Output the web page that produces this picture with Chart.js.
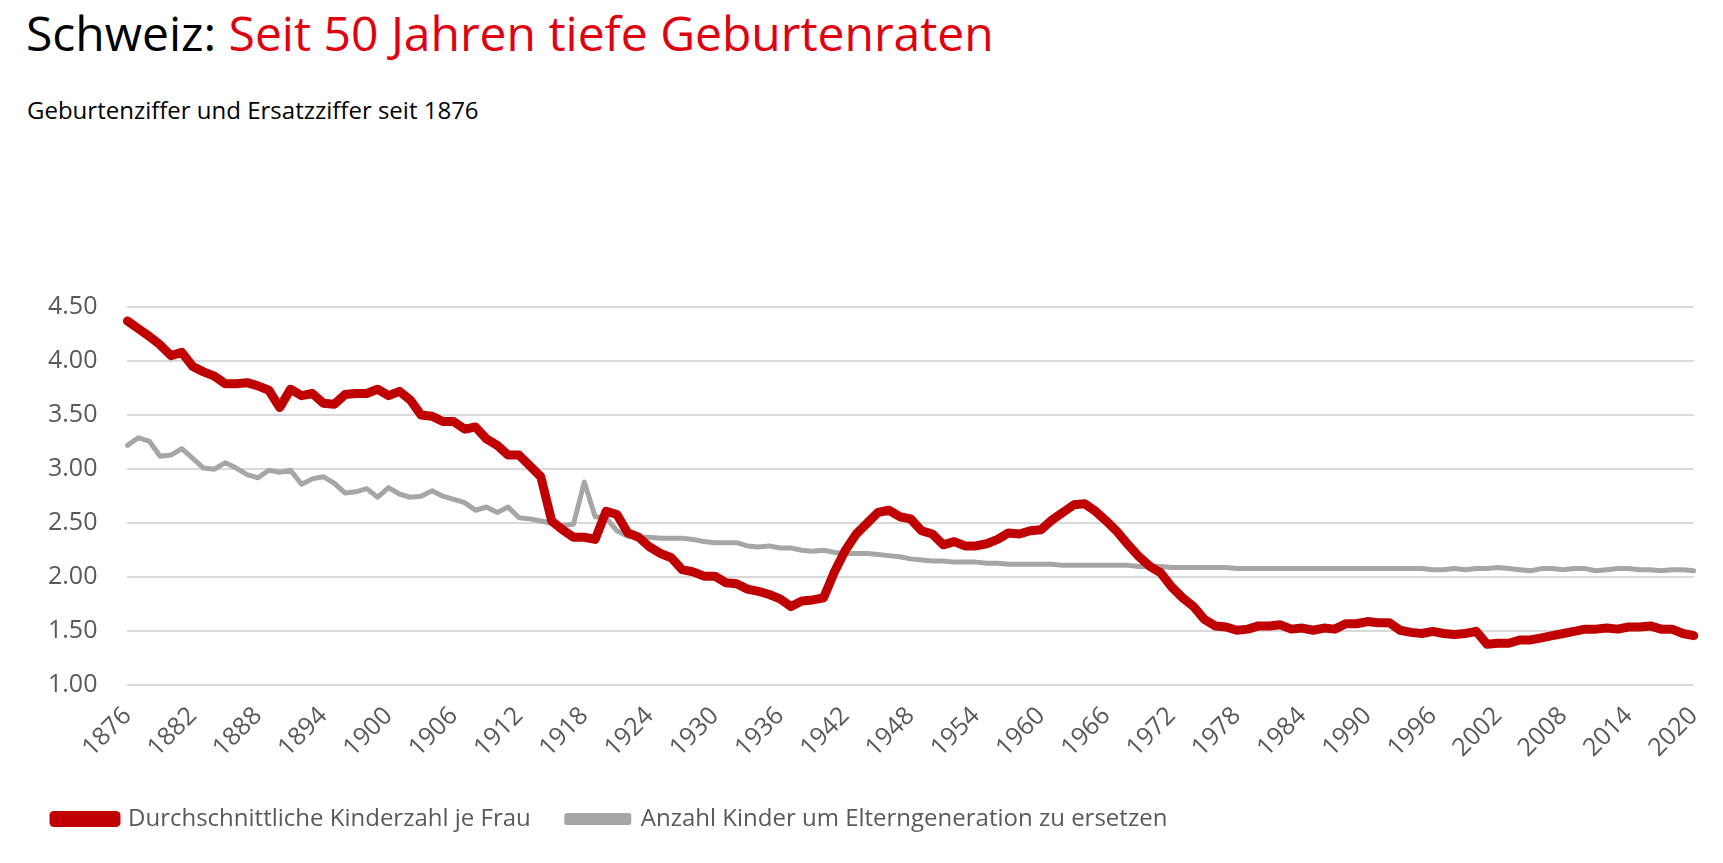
<!DOCTYPE html>
<html lang="de">
<head>
<meta charset="UTF-8">
<title>Schweiz: Seit 50 Jahren tiefe Geburtenraten</title>
<script src="https://cdn.jsdelivr.net/npm/chart.js"></script>
<style>
  body { margin: 0; background: #fff; font-family: "Open Sans", sans-serif; }
  h1 { position: absolute; left: 26px; top: 0px; margin: 0; font-weight: 400; font-size: 48px; color: #000; }
  h1 span { color: #e0000f; }
  h2 { position: absolute; left: 27px; top: 93px; margin: 0; font-weight: 400; font-size: 24px; color: #000; }
  #wrap { position: absolute; left: 0; top: 262px; width: 1723px; height: 601px; }
</style>
</head>
<body>
<h1>Schweiz: <span>Seit 50 Jahren tiefe Geburtenraten</span></h1>
<h2>Geburtenziffer und Ersatzziffer seit 1876</h2>
<div id="wrap"><canvas id="c"></canvas></div>
<script>
const years = [];
for (let y = 1876; y <= 2020; y++) years.push(y);

const kinderJeFrau = [
  4.37, 4.30, 4.23, 4.15, 4.05, 4.08, 3.95, 3.90, 3.86, 3.79,
  3.79, 3.80, 3.77, 3.73, 3.57, 3.74, 3.68, 3.70, 3.61, 3.60,
  3.69, 3.70, 3.70, 3.74, 3.68, 3.72, 3.64, 3.50, 3.49, 3.44,
  3.44, 3.37, 3.39, 3.28, 3.22, 3.13, 3.13, 3.03, 2.93, 2.52,
  2.44, 2.37, 2.37, 2.35, 2.61, 2.58, 2.41, 2.37, 2.28, 2.22,
  2.18, 2.07, 2.05, 2.01, 2.01, 1.95, 1.94, 1.89, 1.87, 1.84,
  1.80, 1.73, 1.78, 1.79, 1.81, 2.05, 2.25, 2.40, 2.50, 2.60,
  2.62, 2.56, 2.54, 2.43, 2.40, 2.30, 2.33, 2.29, 2.29, 2.31,
  2.35, 2.41, 2.40, 2.43, 2.44, 2.53, 2.60, 2.67, 2.68, 2.61,
  2.52, 2.42, 2.30, 2.19, 2.10, 2.04, 1.91, 1.81, 1.73, 1.61,
  1.55, 1.54, 1.51, 1.52, 1.55, 1.55, 1.56, 1.52, 1.53, 1.51,
  1.53, 1.52, 1.57, 1.57, 1.59, 1.58, 1.58, 1.51, 1.49, 1.48,
  1.50, 1.48, 1.47, 1.48, 1.50, 1.38, 1.39, 1.39, 1.42, 1.42,
  1.44, 1.46, 1.48, 1.50, 1.52, 1.52, 1.53, 1.52, 1.54, 1.54,
  1.55, 1.52, 1.52, 1.48, 1.46
];

const ersatzziffer = [
  3.22, 3.29, 3.26, 3.12, 3.13, 3.19, 3.10, 3.01, 3.00, 3.06,
  3.01, 2.95, 2.92, 2.99, 2.97, 2.99, 2.86, 2.91, 2.93, 2.87,
  2.78, 2.79, 2.82, 2.74, 2.83, 2.77, 2.74, 2.75, 2.80, 2.75,
  2.72, 2.69, 2.62, 2.65, 2.60, 2.65, 2.55, 2.54, 2.52, 2.50,
  2.48, 2.49, 2.88, 2.56, 2.55, 2.43, 2.38, 2.37, 2.37, 2.36,
  2.36, 2.36, 2.35, 2.33, 2.32, 2.32, 2.32, 2.29, 2.28, 2.29,
  2.27, 2.27, 2.25, 2.24, 2.25, 2.23, 2.22, 2.22, 2.22, 2.21,
  2.20, 2.19, 2.17, 2.16, 2.15, 2.15, 2.14, 2.14, 2.14, 2.13,
  2.13, 2.12, 2.12, 2.12, 2.12, 2.12, 2.11, 2.11, 2.11, 2.11,
  2.11, 2.11, 2.11, 2.10, 2.10, 2.10, 2.09, 2.09, 2.09, 2.09,
  2.09, 2.09, 2.08, 2.08, 2.08, 2.08, 2.08, 2.08, 2.08, 2.08,
  2.08, 2.08, 2.08, 2.08, 2.08, 2.08, 2.08, 2.08, 2.08, 2.08,
  2.07, 2.07, 2.08, 2.07, 2.08, 2.08, 2.09, 2.08, 2.07, 2.06,
  2.08, 2.08, 2.07, 2.08, 2.08, 2.06, 2.07, 2.08, 2.08, 2.07,
  2.07, 2.06, 2.07, 2.07, 2.06
];

const yTicks = [1.0, 1.5, 2.0, 2.5, 3.0, 3.5, 4.0, 4.5];

new Chart(document.getElementById("c"), {
  type: "line",
  data: {
    labels: years,
    datasets: [
      { label: "Durchschnittliche Kinderzahl je Frau", data: kinderJeFrau,
        borderColor: "#c00000", backgroundColor: "#c00000", borderWidth: 9,
        pointRadius: 0, borderCapStyle: "round", borderJoinStyle: "round" },
      { label: "Anzahl Kinder um Elterngeneration zu ersetzen", data: ersatzziffer,
        borderColor: "#a6a6a6", backgroundColor: "#a6a6a6", borderWidth: 5,
        pointRadius: 0, borderCapStyle: "round", borderJoinStyle: "round" }
    ]
  },
  options: {
    responsive: true,
    maintainAspectRatio: false,
    animation: false,
    layout: { padding: { left: 18, right: 16, top: 0, bottom: 22 } },
    scales: {
      x: {
        offset: false,
        grid: { display: false },
        border: { display: false },
        ticks: {
          autoSkip: false, maxRotation: 45, minRotation: 45, padding: 8,
          font: { family: "Open Sans", size: 25 }, color: "#595959",
          callback: (v, i) => (years[i] - 1876) % 6 === 0 ? years[i] : null
        }
      },
      y: {
        min: 1.0, max: 4.5,
        afterBuildTicks: s => { s.ticks = yTicks.map(v => ({ value: v })); },
        grid: { color: "#d9d9d9", lineWidth: 2, drawTicks: false },
        border: { display: false },
        ticks: { padding: 30, font: { family: "Open Sans", size: 25 }, color: "#595959",
          callback: v => v.toFixed(2) }
      }
    },
    plugins: {
      legend: {
        position: "bottom", align: "start",
        labels: { boxWidth: 62, boxHeight: 7, padding: 36,
          font: { family: "Open Sans", size: 24 }, color: "#595959" }
      },
      tooltip: { enabled: false }
    }
  }
});
</script>
</body>
</html>
